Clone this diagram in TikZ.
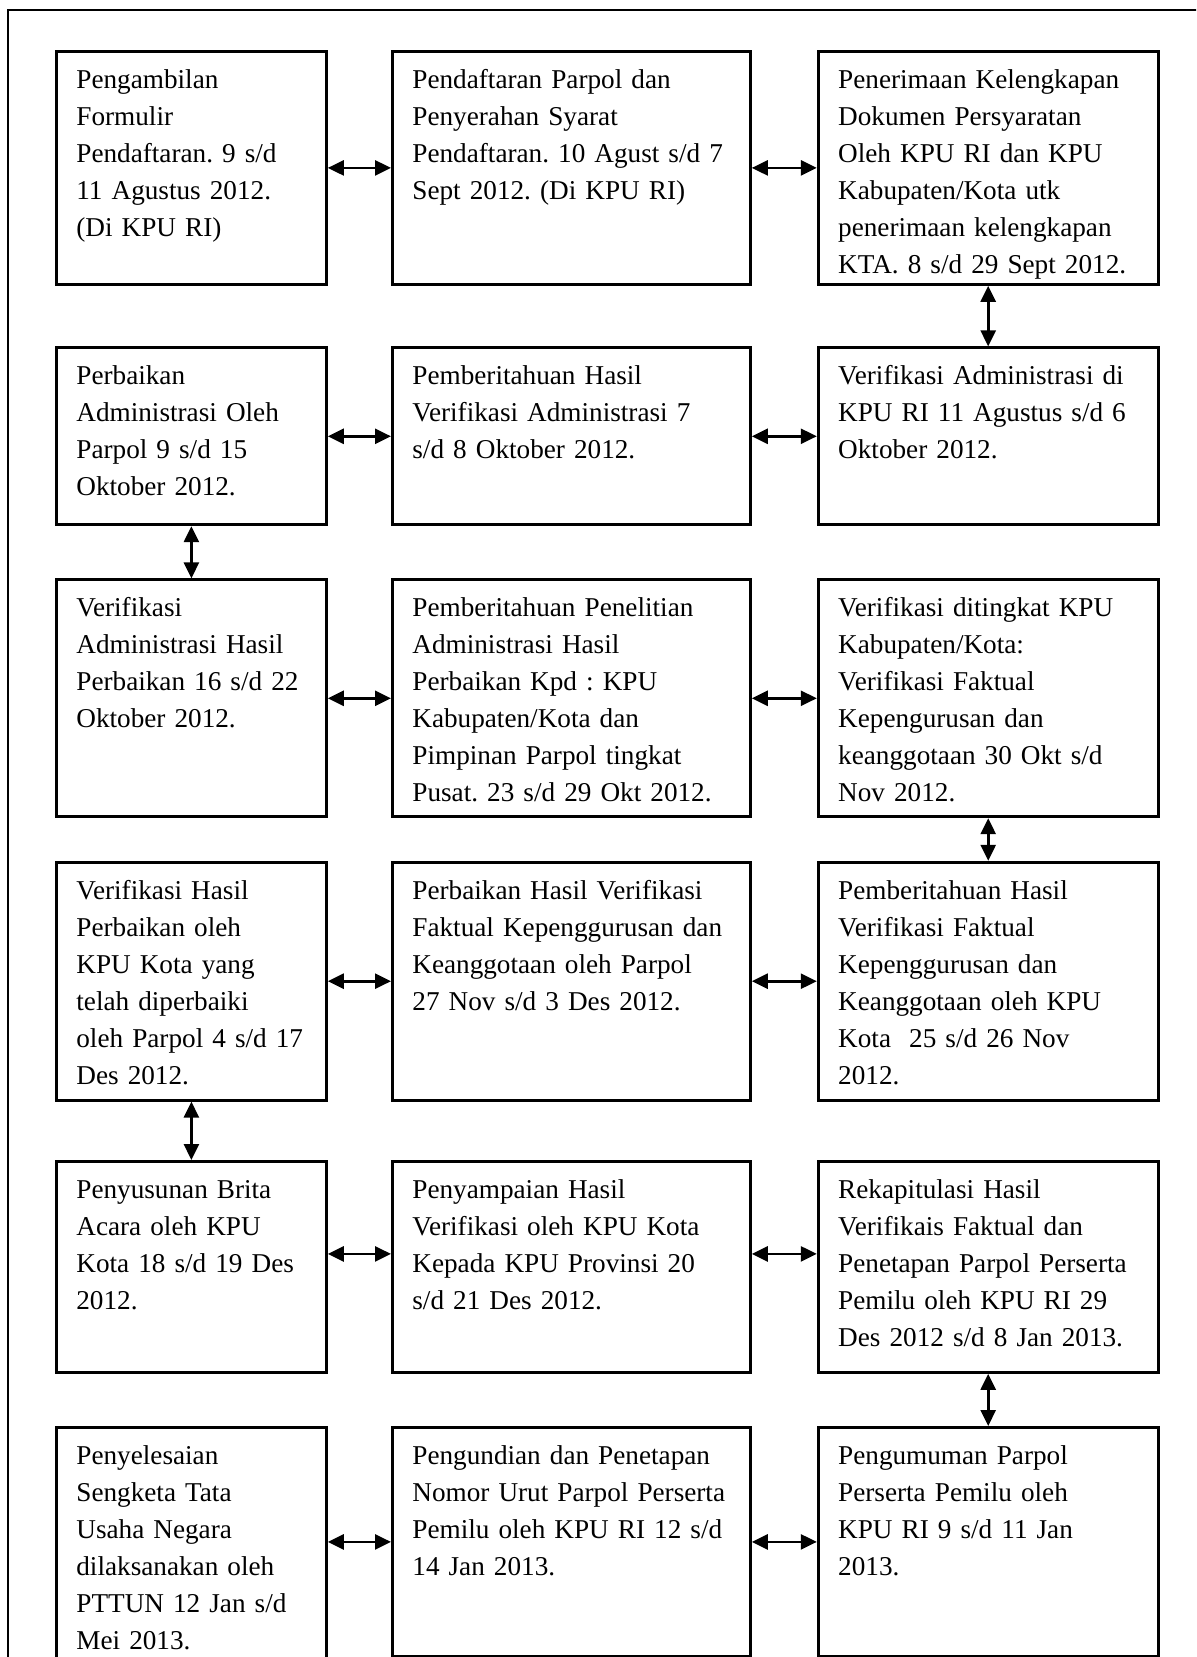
\documentclass[tikz,border=0pt]{standalone}
\usepackage{fontspec}
\setmainfont{Liberation Serif}
\frenchspacing
\usetikzlibrary{arrows.meta,positioning}
\tikzset{
  stage/.style={draw, rectangle, line width=1.4pt, align=left, inner xsep=10pt, inner ysep=0pt,
    text height=18.5pt, font=\fontsize{13.6pt}{18.5pt}\selectfont},
  colA/.style={stage, text width=115pt},
  colB/.style={stage, text width=159pt},
  colC/.style={stage, text width=150pt},
  link/.style={{Triangle[length=8pt,width=7.5pt]}-{Triangle[length=8pt,width=7.5pt]}, line width=1.3pt},
}

\begin{document}
\begin{tikzpicture}
  \useasboundingbox (-27.5pt,25pt) rectangle (570.5pt,-803.5pt);
  \clip (-27.5pt,25pt) rectangle (570.5pt,-803.5pt);
  % outer frame
  \draw[line width=1.3pt] (-23.5pt,-820pt) -- (-23.5pt,20pt) -- (590pt,20pt);

  % row 1
  \node[colA, text depth=98pt, anchor=north west] (ambil) at (0,0) {Pengambilan\\Formulir\\Pendaftaran. 9 s/d\\11 Agustus 2012.\\(Di KPU RI)};
  \node[colB, text depth=98pt, right=31.6pt of ambil.north east, anchor=north west] (daftar) {Pendaftaran Parpol dan\\Penyerahan Syarat\\Pendaftaran. 10 Agust s/d 7\\Sept 2012. (Di KPU RI)};
  \node[colC, text depth=98pt, right=32.5pt of daftar.north east, anchor=north west] (terima) {Penerimaan Kelengkapan\\Dokumen Persyaratan\\Oleh KPU RI dan KPU\\Kabupaten/Kota utk\\penerimaan kelengkapan\\KTA. 8 s/d 29 Sept 2012.};

  % row 2
  \node[colA, text depth=70pt, below=30.3pt of ambil] (baiki) {Perbaikan\\Administrasi Oleh\\Parpol 9 s/d 15\\Oktober 2012.};
  \node[colB, text depth=70pt, right=31.6pt of baiki.north east, anchor=north west] (beritahu) {Pemberitahuan Hasil\\Verifikasi Administrasi 7\\s/d 8 Oktober 2012.};
  \node[colC, text depth=70pt, right=32.5pt of beritahu.north east, anchor=north west] (veradm) {Verifikasi Administrasi di\\KPU RI 11 Agustus s/d 6\\Oktober 2012.};

  % row 3
  \node[colA, text depth=100pt, below=26.1pt of baiki] (verbaik) {Verifikasi\\Administrasi Hasil\\Perbaikan 16 s/d 22\\Oktober 2012.};
  \node[colB, text depth=100pt, right=31.6pt of verbaik.north east, anchor=north west] (teliti) {Pemberitahuan Penelitian\\Administrasi Hasil\\Perbaikan Kpd : KPU\\Kabupaten/Kota dan\\Pimpinan Parpol tingkat\\Pusat. 23 s/d 29 Okt 2012.};
  \node[colC, text depth=100pt, right=32.5pt of teliti.north east, anchor=north west] (verkab) {Verifikasi ditingkat KPU\\Kabupaten/Kota:\\Verifikasi Faktual\\Kepengurusan dan\\keanggotaan 30 Okt s/d\\Nov 2012.};

  % row 4
  \node[colA, text depth=100.5pt, below=21.3pt of verbaik] (verhasil) {Verifikasi Hasil\\Perbaikan oleh\\KPU Kota yang\\telah diperbaiki\\oleh Parpol 4 s/d 17\\Des 2012.};
  \node[colB, text depth=100.5pt, right=31.6pt of verhasil.north east, anchor=north west] (baikfak) {Perbaikan Hasil Verifikasi\\Faktual Kepenggurusan dan\\Keanggotaan oleh Parpol\\27 Nov s/d 3 Des 2012.};
  \node[colC, text depth=100.5pt, right=32.5pt of baikfak.north east, anchor=north west] (beritafak) {Pemberitahuan Hasil\\Verifikasi Faktual\\Kepenggurusan dan\\Keanggotaan oleh KPU\\Kota\ \ 25 s/d 26 Nov\\2012.};

  % row 5
  \node[colA, text depth=87pt, below=29.2pt of verhasil] (brita) {Penyusunan Brita\\Acara oleh KPU\\Kota 18 s/d 19 Des\\2012.};
  \node[colB, text depth=87pt, right=31.6pt of brita.north east, anchor=north west] (sampai) {Penyampaian Hasil\\Verifikasi oleh KPU Kota\\Kepada KPU Provinsi 20\\s/d 21 Des 2012.};
  \node[colC, text depth=87pt, right=32.5pt of sampai.north east, anchor=north west] (rekap) {Rekapitulasi Hasil\\Verifikais Faktual dan\\Penetapan Parpol Perserta\\Pemilu oleh KPU RI 29\\Des 2012 s/d 8 Jan 2013.};

  % row 6
  \node[colA, text depth=106pt, below=26.1pt of brita] (sengketa) {Penyelesaian\\Sengketa Tata\\Usaha Negara\\dilaksanakan oleh\\PTTUN 12 Jan s/d\\Mei 2013.};
  \node[colB, text depth=96pt, right=31.6pt of sengketa.north east, anchor=north west] (undi) {Pengundian dan Penetapan\\Nomor Urut Parpol Perserta\\Pemilu oleh KPU RI 12 s/d\\14 Jan 2013.};
  \node[colC, text depth=96pt, right=32.5pt of undi.north east, anchor=north west] (umum) {Pengumuman Parpol\\Perserta Pemilu oleh\\KPU RI 9 s/d 11 Jan\\2013.};

  % connectors
  \draw[link] (ambil.east) -- (ambil.east -| daftar.west);
  \draw[link] (daftar.east) -- (daftar.east -| terima.west);
  \draw[link] (terima.south) -- (terima.south |- veradm.north);
  \draw[link] (baiki.east) -- (baiki.east -| beritahu.west);
  \draw[link] (beritahu.east) -- (beritahu.east -| veradm.west);
  \draw[link] (baiki.south) -- (verbaik.north);
  \draw[link] (verbaik.east) -- (verbaik.east -| teliti.west);
  \draw[link] (teliti.east) -- (teliti.east -| verkab.west);
  \draw[link] (verkab.south) -- (verkab.south |- beritafak.north);
  \draw[link] (verhasil.east) -- (verhasil.east -| baikfak.west);
  \draw[link] (baikfak.east) -- (baikfak.east -| beritafak.west);
  \draw[link] (verhasil.south) -- (brita.north);
  \draw[link] ([yshift=6.5pt]brita.east) -- ([yshift=6.5pt]brita.east -| sampai.west);
  \draw[link] ([yshift=6.5pt]sampai.east) -- ([yshift=6.5pt]sampai.east -| rekap.west);
  \draw[link] (rekap.south) -- (rekap.south |- umum.north);
  \draw[link] (undi.west -| sengketa.east) -- (undi.west);
  \draw[link] (undi.east) -- (undi.east -| umum.west);
\end{tikzpicture}
\end{document}
